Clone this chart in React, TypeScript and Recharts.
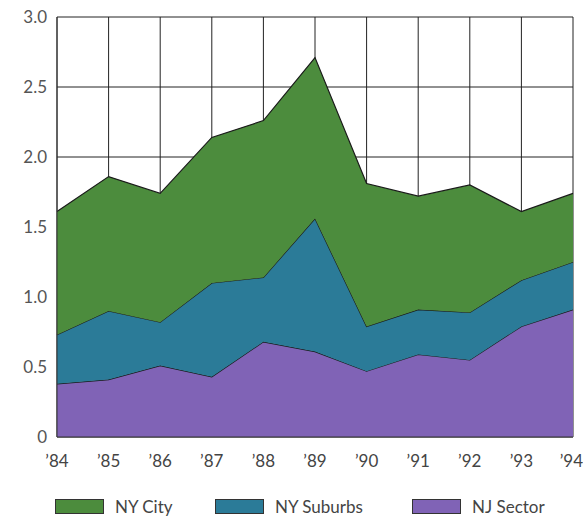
import React from 'react';
import { AreaChart, Area, XAxis, YAxis, CartesianGrid, Legend } from 'recharts';

const years = ["’84", "’85", "’86", "’87", "’88", "’89", "’90", "’91", "’92", "’93", "’94"];
const njSector = [0.38, 0.41, 0.51, 0.43, 0.68, 0.61, 0.47, 0.59, 0.55, 0.79, 0.91];
const nySuburbs = [0.35, 0.49, 0.31, 0.67, 0.46, 0.95, 0.32, 0.32, 0.34, 0.33, 0.34];
const nyCity = [0.88, 0.96, 0.92, 1.04, 1.12, 1.15, 1.02, 0.81, 0.91, 0.49, 0.49];
const yTicks = [0, 0.5, 1.0, 1.5, 2.0, 2.5, 3.0];

const seriesNames = ['NY City', 'NY Suburbs', 'NJ Sector'];
const colors: Record<string, string> = {
  'NY City': '#4c8c3d',
  'NY Suburbs': '#2b7b98',
  'NJ Sector': '#8063b6',
};

const data = years.map((y, i) => ({
  year: y,
  'NJ Sector': njSector[i],
  'NY Suburbs': nySuburbs[i],
  'NY City': nyCity[i],
}));

const FONT = 'Lato, "Noto Sans", sans-serif';
const legendLefts = [55, 215, 412];

const LegendContent = () => (
  <div style={{ position: 'relative', width: 583, height: 30, fontFamily: FONT }}>
    {seriesNames.map((n, i) => (
      <div key={n} style={{ position: 'absolute', left: legendLefts[i], top: 8, display: 'flex', alignItems: 'center' }}>
        <div style={{ width: 47, height: 13, background: colors[n], border: '1px solid #333' }} />
        <span style={{ marginLeft: 11, fontSize: 17, color: '#444' }}>{n}</span>
      </div>
    ))}
  </div>
);

const XTick = (props: any) => {
  const { x, y, payload, index } = props;
  const last = index === years.length - 1;
  return (
    <text
      x={last ? x + 10 : x}
      y={y}
      dy={20}
      textAnchor={last ? 'end' : 'middle'}
      fill="#444"
      fontSize={17}
      fontFamily={FONT}
    >
      {payload.value}
    </text>
  );
};

const fmtY = (v: number) => (v === 0 ? '0' : v.toFixed(1));

export default function App() {
  return (
    <div style={{ position: 'absolute', left: 0, top: 0, width: 583, height: 519, background: '#fff' }}>
      <AreaChart
        width={583}
        height={519}
        data={data}
        margin={{ top: 17, right: 10, left: 0, bottom: 22 }}
      >
        <CartesianGrid stroke="#222" strokeWidth={1} />
        <XAxis
          dataKey="year"
          tickLine={false}
          tickSize={0}
          tickMargin={10}
          height={30}
          axisLine={{ stroke: '#333' }}
          tick={<XTick />}
          interval={0}
        />
        <YAxis
          domain={[0, 3]}
          ticks={yTicks}
          tickFormatter={fmtY}
          tickLine={false}
          tickSize={0}
          tickMargin={10}
          width={57}
          axisLine={{ stroke: '#333' }}
          tick={{ fill: '#555', fontSize: 17, fontFamily: FONT }}
          interval={0}
        />
        <YAxis
          yAxisId="right"
          orientation="right"
          domain={[0, 3]}
          tick={false}
          tickLine={false}
          width={0}
          axisLine={{ stroke: '#333' }}
        />
        <Area type="linear" dataKey="NJ Sector" stackId="a" stroke="#1a1a1a" strokeWidth={1.2} fill={colors['NJ Sector']} fillOpacity={1} isAnimationActive={false} />
        <Area type="linear" dataKey="NY Suburbs" stackId="a" stroke="#1a1a1a" strokeWidth={1.2} fill={colors['NY Suburbs']} fillOpacity={1} isAnimationActive={false} />
        <Area type="linear" dataKey="NY City" stackId="a" stroke="#1a1a1a" strokeWidth={1.2} fill={colors['NY City']} fillOpacity={1} isAnimationActive={false} />
        <Legend verticalAlign="bottom" height={30} content={<LegendContent />} wrapperStyle={{ left: 0, top: 488, width: 583 }} />
      </AreaChart>
    </div>
  );
}
